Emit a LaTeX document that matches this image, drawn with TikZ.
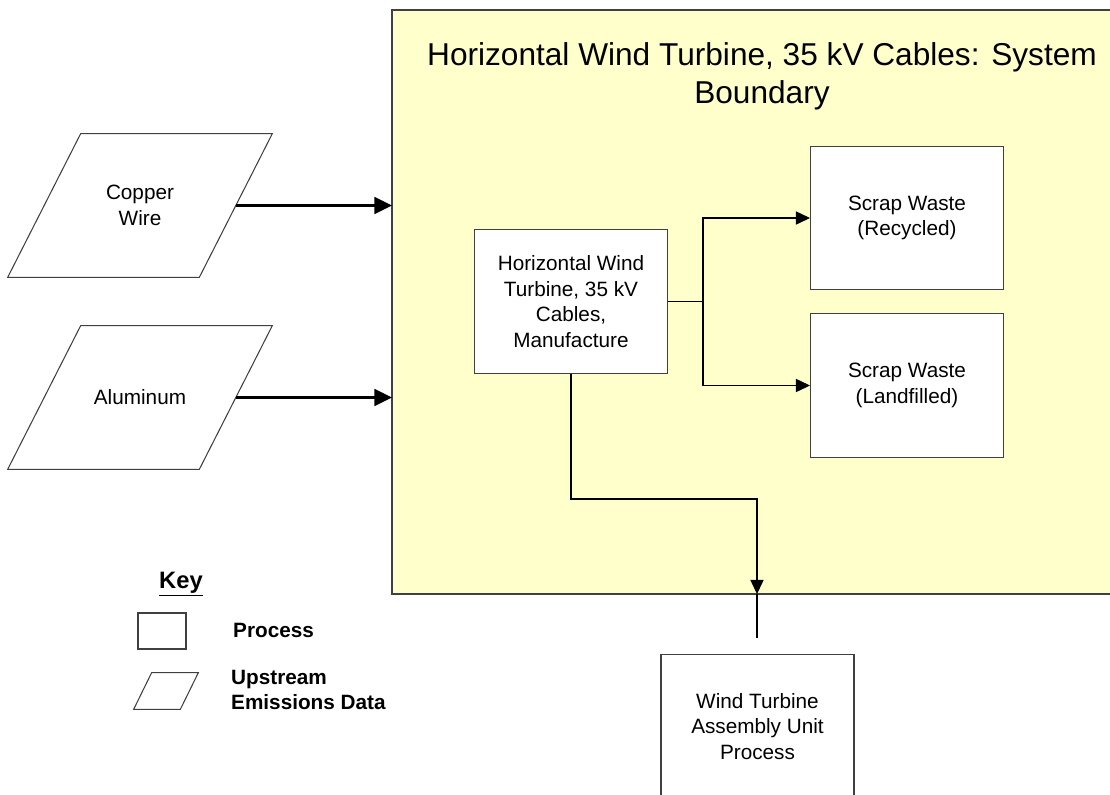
\documentclass[tikz,border=0pt]{standalone}
\usepackage{fontspec}
\setmainfont{Liberation Sans}
\usetikzlibrary{positioning,shapes.geometric,arrows.meta}
\definecolor{sbyellow}{HTML}{FFFFCC}
\definecolor{sbline}{HTML}{404040}

\begin{document}
\begin{tikzpicture}[x=0.02cm,y=-0.02cm,
  font=\fontsize{11.8}{14.6}\selectfont,
  proc/.style={draw=sbline,fill=white,line width=0.6pt,align=center,
               minimum width=3.86cm,minimum height=2.87cm,inner sep=2pt},
  upstream/.style={align=center,inner sep=0pt,
               append after command={\pgfextra{\draw[sbline,line width=0.6pt]
                 ([xshift=-#1]\tikzlastnode.south west) -- ([xshift=#1]\tikzlastnode.north west)
                 -- ([xshift=#1]\tikzlastnode.north east) -- ([xshift=-#1]\tikzlastnode.south east)
                 -- cycle;}}},
  title/.style={font=\fontsize{18}{21.6}\selectfont,align=center},
  keyhead/.style={font=\fontsize{13.5}{16}\selectfont\bfseries},
  keytext/.style={font=\fontsize{11.8}{14.6}\selectfont\bfseries,align=left,anchor=west},
  inarr/.style={-{Triangle[length=10pt,width=9.5pt]},line width=1.5pt},
  outarr/.style={-{Triangle[length=8pt,width=7.5pt]},line width=0.6pt},
  feed/.style={line width=1.6pt}]
\useasboundingbox (0,0) rectangle (1110,795);

% ---- system boundary ----
\filldraw[fill=sbyellow,draw=sbline,line width=0.6pt] (392,10) rectangle (1116,594);
\node[title] (sysname) at (762,76) {Horizontal Wind Turbine, 35 kV Cables: System\\Boundary};

% ---- upstream inputs ----
\node[upstream=0.73cm,minimum width=3.82cm,minimum height=2.86cm] (copper) at (140,205.5) {Copper\\Wire};
\node[upstream=0.73cm,minimum width=3.82cm,minimum height=2.86cm] (alum) at (140,397.5) {Aluminum};
\coordinate (cuin) at (392,205.5);
\coordinate (alin) at (392,397.5);
\draw[inarr] (copper.east) -- (cuin);
\draw[inarr] (alum.east) -- (alin);

% ---- processes ----
\node[proc] (mfg) at (571,301.5) {Horizontal Wind\\Turbine, 35 kV\\Cables,\\Manufacture};
\node[proc] (recyc) at (907,218) {Scrap Waste\\(Recycled)};
\node[proc] (landf) at (907,385.5) {Scrap Waste\\(Landfilled)};
\node[proc] (assy) at (757.5,726.5) {Wind Turbine\\Assembly Unit\\Process};

% ---- scrap split ----
\coordinate (split) at (703,301.5);
\draw[line width=0.6pt] (mfg.east) -- (split);
\draw[outarr] (split) |- (recyc.west);
\draw[outarr] (split) |- (landf.west);

% ---- product out through the boundary ----
\coordinate (bend) at (757,499);
\coordinate (gate) at (757,594);
\coordinate (feedend) at (757,638);
\draw[outarr] (mfg.south) |- (bend) -- (gate);
\draw[feed] (gate) -- (feedend);

% ---- key ----
\node[keyhead,anchor=base] (keytitle) at (181,588) {\underline{Key}};
\node[draw=sbline,line width=0.6pt,minimum width=0.96cm,minimum height=0.72cm,inner sep=0pt] (keyproc) at (162,631) {};
\node[keytext] (keyproclbl) at (227,630) {Process};
\node[upstream=0.18cm,minimum width=0.92cm,minimum height=0.72cm] (keyup) at (166,691) {};
\node[keytext] (keyuplbl) at (225,690) {Upstream\\Emissions Data};
\end{tikzpicture}
\end{document}
